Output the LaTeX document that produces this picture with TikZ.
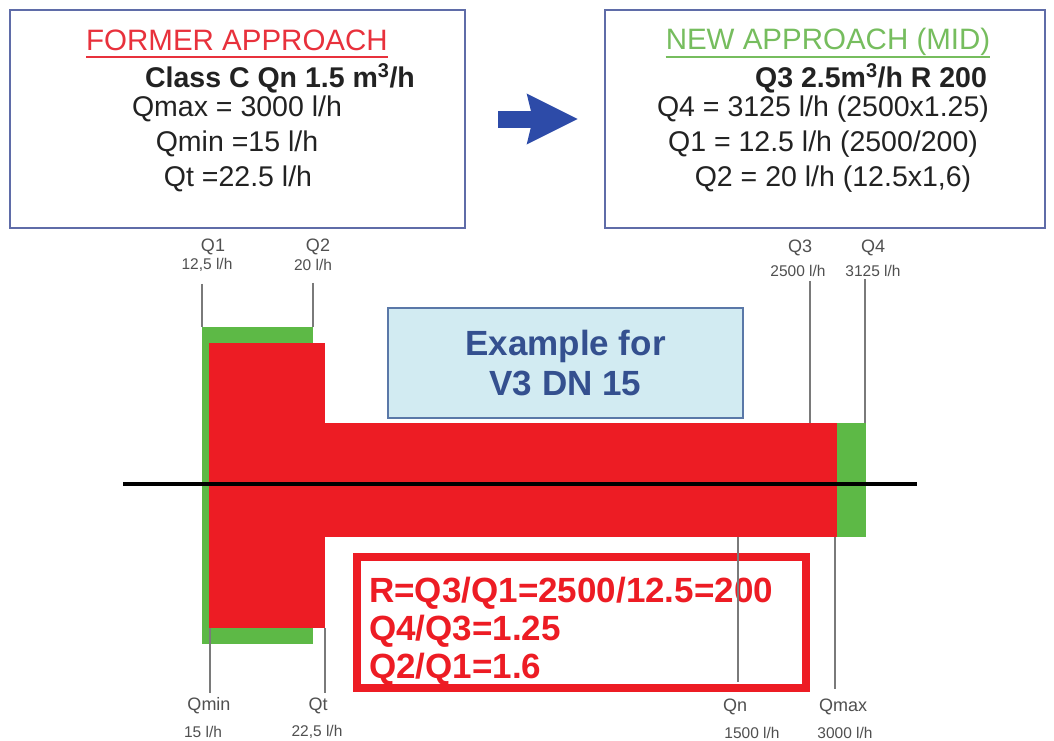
\documentclass[tikz,border=0pt]{standalone}
\usepackage{fontspec}
\setmainfont{Liberation Sans}
\usepackage{tikz}
\usetikzlibrary{arrows.meta, positioning}

\definecolor{meterred}{HTML}{ED1C24}
\definecolor{formerred}{HTML}{E8313C}
\definecolor{newgreen}{HTML}{76BD5E}
\definecolor{metergreen}{HTML}{5DB946}
\definecolor{arrowblue}{HTML}{2D4BA8}
\definecolor{frameblue}{HTML}{5F6CA8}
\definecolor{notefill}{HTML}{D2EBF2}
\definecolor{noteframe}{HTML}{5A78A8}
\definecolor{noteblue}{HTML}{34508F}
\definecolor{textblack}{HTML}{222222}
\definecolor{tickgray}{HTML}{7A7A7A}
\definecolor{labelgray}{HTML}{505050}

\begin{document}
\begin{tikzpicture}[x=1pt, y=-1pt,
  panel/.style={rectangle, draw=frameblue, line width=2pt, minimum height=218pt, inner sep=0pt},
  bigtxt/.style={anchor=base, inner sep=0pt, text=textblack, font=\fontsize{28.5}{34}\selectfont},
  headtxt/.style={bigtxt, font=\fontsize{29.5}{34}\selectfont},
  boldtxt/.style={bigtxt, font=\fontsize{28.5}{34}\selectfont\bfseries},
  uline/.style={line width=2.5pt},
  bigarrow/.style={draw=arrowblue, line width=17pt, -{Stealth[width=48pt,length=50pt,inset=5pt]}},
  notebox/.style={rectangle, draw=noteframe, fill=notefill, line width=2pt,
                  minimum width=355pt, minimum height=110pt, align=center,
                  text=noteblue, font=\fontsize{35}{40}\selectfont\bfseries},
  ratiobox/.style={rectangle, draw=meterred, fill=white, line width=8pt,
                   minimum width=449pt, minimum height=131pt},
  ratiotxt/.style={anchor=base west, inner sep=0pt, text=meterred,
                   font=\fontsize{35}{38}\selectfont\bfseries},
  qname/.style={inner sep=1pt, text=labelgray, font=\fontsize{18}{18}\selectfont},
  qval/.style={inner sep=1pt, text=labelgray, font=\fontsize{15.5}{16}\selectfont},
  tick/.style={draw=tickgray, line width=1.4pt}
]

\fill[white] (0,0) rectangle (1054,740);
\useasboundingbox (0,0) rectangle (1054,740);

% the two approaches
\node[panel, minimum width=455pt] (former) at (237.5,119) {};
\node[panel, minimum width=440pt] (new)    at (825,119)   {};
\draw[bigarrow, shorten <=32pt, shorten >=26pt] (former) -- (new);

\node[headtxt, text=formerred] (fhead) at (237,50) {FORMER APPROACH};
\draw[uline, formerred] ([yshift=-7pt]fhead.base west) -- ([yshift=-7pt]fhead.base east);
\node[boldtxt] (fclass) at (280,87)  {Class C Qn 1.5 m\textsuperscript{3}/h};
\node[bigtxt]  (fqmax)  at (237,116) {Qmax = 3000 l/h};
\node[bigtxt]  (fqmin)  at (237,151) {Qmin =15 l/h};
\node[bigtxt]  (fqt)    at (238,186) {Qt =22.5 l/h};

\node[headtxt, text=newgreen] (nhead) at (828,49) {NEW APPROACH (MID)};
\draw[uline, newgreen] ([yshift=-8pt]nhead.base west) -- ([yshift=-8pt]nhead.base east);
\node[boldtxt] (nq3) at (871,87)  {Q3 2.5m\textsuperscript{3}/h R 200};
\node[bigtxt]  (nq4) at (823,116) {Q4 = 3125 l/h (2500x1.25)};
\node[bigtxt]  (nq1) at (823,151) {Q1 = 12.5 l/h (2500/200)};
\node[bigtxt]  (nq2) at (833,186) {Q2 = 20 l/h (12.5x1,6)};

% flow ranges
\fill[metergreen] (202,327) rectangle (313,644);
\fill[metergreen] (830,423) rectangle (866,537);
\fill[meterred]   (209,343) rectangle (325,628);
\fill[meterred]   (209,423) rectangle (837,537);
\draw[line width=4pt] (123,484) -- (917,484);

\node[notebox] (example) at (565.5,363) {Example for\\V3 DN 15};

\node[ratiobox] (ratios) at (581.5,622.5) {};
\node[ratiotxt] (r1) at (369,602) {R=Q3/Q1=2500/12.5=200};
\node[ratiotxt] (r2) at (369,640) {Q4/Q3=1.25};
\node[ratiotxt] (r3) at (369,678) {Q2/Q1=1.6};

% flow points
\coordinate (q1b)   at (202,327);
\coordinate (q2b)   at (313,327);
\coordinate (q3b)   at (810,423);
\coordinate (q4b)   at (865,423);
\coordinate (qminb) at (210,628);
\coordinate (qtb)   at (325,628);
\coordinate (qnb)   at (738,537);
\coordinate (qmaxb) at (835,537);

\node[qname] (q1)  at (213,247) {Q1};
\node[qval]  (q1v) at (207,265) {12,5 l/h};
\node[qname] (q2)  at (318,247) {Q2};
\node[qval]  (q2v) at (313,265) {20 l/h};
\node[qname] (q3)  at (800,248) {Q3};
\node[qval]  (q3v) at (798,271) {2500 l/h};
\node[qname] (q4)  at (873,248) {Q4};
\node[qval]  (q4v) at (873,271) {3125 l/h};

\node[qname] (qmin)  at (209,706) {Qmin};
\node[qval]  (qminv) at (203,732) {15 l/h};
\node[qname] (qt)    at (318,706) {Qt};
\node[qval]  (qtv)   at (317,732) {22,5 l/h};
\node[qname] (qn)    at (735,707) {Qn};
\node[qval]  (qnv)   at (752,733) {1500 l/h};
\node[qname] (qmax)  at (843,707) {Qmax};
\node[qval]  (qmaxv) at (845,733) {3000 l/h};

\draw[tick, shorten <=11pt] (q1b |- q1v.south) -- (q1b);
\draw[tick, shorten <=11pt] (q2b |- q2v.south) -- (q2b);
\draw[tick, shorten <=3pt] (q3b |- q3v.south) -- (q3b);
\draw[tick, shorten <=1pt] (q4b |- q4v.south) -- (q4b);
\draw[tick, shorten >=4pt] (qminb) -- (qminb |- qmin.north);
\draw[tick, shorten >=4pt] (qtb) -- (qtb |- qt.north);
\draw[tick, shorten >=10pt] (qnb) -- (qnb |- ratios.south);
\draw[tick, shorten >=9pt] (qmaxb) -- (qmaxb |- qmax.north);

\end{tikzpicture}
\end{document}
